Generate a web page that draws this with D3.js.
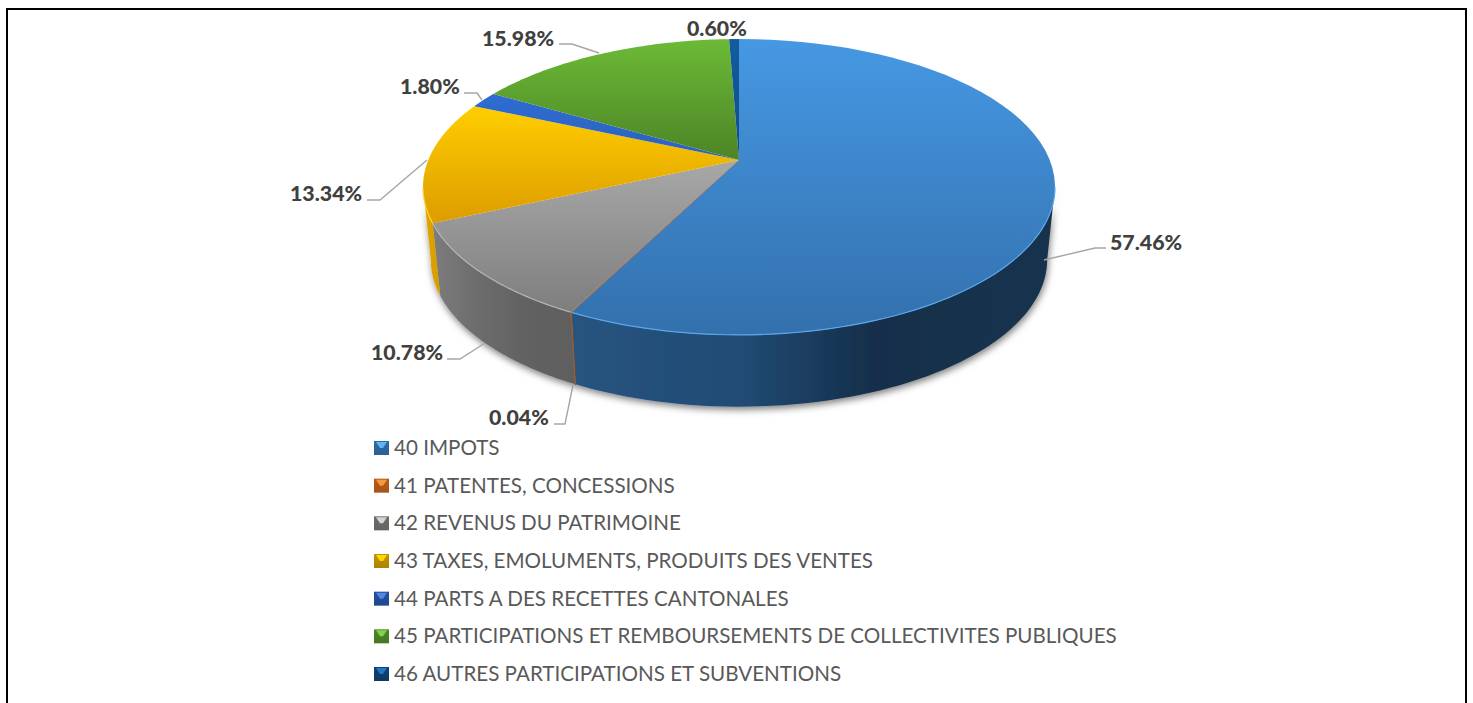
<!DOCTYPE html>
<html><head><meta charset="utf-8">
<script src="https://cdn.jsdelivr.net/npm/d3@7"></script>
<style>html,body{margin:0;background:#fff}svg{display:block}</style></head>
<body><svg id="c" width="1473" height="703"></svg>
<script>
// ---- data ----
const categories = ["40 IMPOTS","41 PATENTES, CONCESSIONS","42 REVENUS DU PATRIMOINE","43 TAXES, EMOLUMENTS, PRODUITS DES VENTES","44 PARTS A DES RECETTES CANTONALES","45 PARTICIPATIONS ET REMBOURSEMENTS DE COLLECTIVITES PUBLIQUES","46 AUTRES PARTICIPATIONS ET SUBVENTIONS"];
const values = [57.46,0.04,10.78,13.34,1.80,15.98,0.60];
// ---- styles ----
const topLight = ["#4698e3","#ed7d31","#a8a8a8","#ffce00","#2f6cd2","#6cba36","#125c9f"];
const topDark  = ["#3370ad","#c05f1d","#7e7e7e","#dc9c00","#2a62bd","#4c8426","#0f4f86"];
const wallStops = [
  ["#27547f","#214b74","#152f4b","#17324e"],["#a8561c","#a8561c","#a8561c","#a8561c"],
  ["#7c7c7c","#6c6c6c","#626262","#5e5e5e"],["#e2a600","#dfa200","#d99e00","#d99e00"],
  ["#1e4488","#1e4488","#1e4488","#1e4488"],["#3d6a1e","#3d6a1e","#3d6a1e","#3d6a1e"],
  ["#0c3d68","#0c3d68","#0c3d68","#0c3d68"]];
const rimColors = ["#5ba6ea","#c05f1d","#b4b4b4","#ffd633","#3f78d8","#7cc646","#1a6cb0"];
const keyLight = ["#5fb6ef","#f5993f","#d4d4d4","#ffd800","#4f86e2","#80d24c","#1f78c4"];
const keyDark  = ["#2f6ba3","#bb5b1b","#6e6e6e","#c29200","#244f9e","#4c8527","#0e416e"];
// ---- layout ----
const labelLayout = [
  {x:1110,y:250,pts:[[1044,260],[1095,248],[1106,248]]},
  {x:489,y:425,pts:[[573,385],[565,424],[554,424]]},
  {x:371,y:360,pts:[[485,343],[460,359],[447,359]]},
  {x:290,y:201,pts:[[427,160],[380,200],[367,200]]},
  {x:400,y:94,pts:[[482,100],[477,93],[464,93]]},
  {x:482,y:46,pts:[[599,53],[572,44],[559,44]]},
  {x:687,y:36,pts:null}];

const svg = d3.select("#c"), defs = svg.append("defs");
svg.append("rect").attr("x",7).attr("y",9).attr("width",1459).attr("height",800)
  .attr("fill","#fff").attr("stroke","#000").attr("stroke-width",2);

// perspective of the pie plane: a disc seen obliquely
const cx = 739, k = 0.1824;
const proj = (a, rx, y0, ry) => {
  const u = Math.sin(a), v = -Math.cos(a), w = 1 - k*v;
  return [cx + rx*u/w, y0 + ry*v/w];
};
const topRim = a => proj(a, 310.7, 160, 143);
const lowRim = a => proj(a, 303, 233, 142);
const apex = [cx, 160];
const arcs = d3.pie().sort(null).startAngle(0).endAngle(2*Math.PI)(values);
const line = d3.line();
const sample = (a0,a1) => d3.range(0, 61).map(i => a0 + (a1-a0)*i/60);
// the wall is only visible between the two tangent angles of the disc
const frontA = Math.acos(-k), frontB = 2*Math.PI - frontA;

const f = defs.append("filter").attr("id","sh").attr("x","-10%").attr("y","-10%").attr("width","120%").attr("height","125%");
f.append("feDropShadow").attr("dx",1).attr("dy",3).attr("stdDeviation",3.5).attr("flood-color","#000").attr("flood-opacity",.5);

// walls
const walls = svg.append("g").attr("filter","url(#sh)");
arcs.forEach((d,i) => {
  const a0 = Math.max(d.startAngle,frontA), a1 = Math.min(d.endAngle,frontB);
  if (a1 <= a0) return;
  const as = sample(a0,a1);
  const pts = as.map(topRim).concat(as.slice().reverse().map(lowRim));
  const xe = d3.extent(pts, p=>p[0]);
  const g = defs.append("linearGradient").attr("id","w"+i).attr("gradientUnits","userSpaceOnUse")
    .attr("x1",xe[0]).attr("x2",xe[1]).attr("y1",0).attr("y2",0);
  const st = i===0 ? [0,0.35,0.62,1] : [0,0.33,0.66,1];
  wallStops[i].forEach((c,j)=>g.append("stop").attr("offset",st[j]).attr("stop-color",c));
  walls.append("path").attr("d",line(pts)+"Z").attr("fill",`url(#w${i})`)
    .attr("stroke",values[i]<0.1?wallStops[i][0]:"none").attr("stroke-width",.7);
});

// top face
const tops = svg.append("g");
arcs.forEach((d,i) => {
  const as = sample(d.startAngle,d.endAngle);
  const pts = [apex].concat(as.map(topRim));
  const ye = d3.extent(pts,p=>p[1]);
  const g = defs.append("linearGradient").attr("id","t"+i).attr("gradientUnits","userSpaceOnUse")
    .attr("x1",0).attr("x2",0).attr("y1",ye[0]).attr("y2",ye[1]);
  g.append("stop").attr("offset",0).attr("stop-color",topLight[i]);
  g.append("stop").attr("offset",1).attr("stop-color",topDark[i]);
  tops.append("path").attr("d",line(pts)+"Z").attr("fill",`url(#t${i})`)
    .attr("stroke",values[i]<0.1?topDark[i]:"none").attr("stroke-width",.6);
});
// highlight only on the front rim, where the top meets the wall
arcs.forEach((d,i) => {
  const a0 = Math.max(d.startAngle,frontA), a1 = Math.min(d.endAngle,frontB);
  if (a1 <= a0) return;
  tops.append("path").attr("d",line(sample(a0,a1).map(topRim))).attr("fill","none")
    .attr("stroke",rimColors[i]).attr("stroke-width",1.2);
});

// leaders and labels
const lab = svg.append("g");
labelLayout.forEach((l,i)=>{
  if(l.pts) lab.append("path").attr("d",line(l.pts)).attr("fill","none").attr("stroke","#a6a6a6").attr("stroke-width",1.4);
  lab.append("text").attr("x",l.x).attr("y",l.y).text(values[i].toFixed(2)+"%")
    .attr("font-family","Lato").attr("font-weight",900).attr("font-size",21.3).attr("fill","#404040");
});

// legend
const rowY = d3.scalePoint().domain(categories).range([448,674]);
const kg = svg.append("g");
categories.forEach((c,i)=>{
  const y = rowY(c), s = 15, x = 374, t = y-7;
  const g = defs.append("linearGradient").attr("id","k"+i).attr("x1",0).attr("x2",0).attr("y1",0).attr("y2",1);
  g.append("stop").attr("offset",0).attr("stop-color",keyDark[i]);
  g.append("stop").attr("offset",1).attr("stop-color",d3.color(keyDark[i]).darker(.3));
  kg.append("rect").attr("x",x).attr("y",t).attr("width",s).attr("height",s-1).attr("fill",`url(#k${i})`);
  kg.append("path").attr("d",line([[x+2,t+1],[x+s-2,t+1],[x+s-6,t+7],[x+6,t+7]])+"Z").attr("fill",keyLight[i]);
  kg.append("text").attr("x",394).attr("y",y+7).text(c)
    .attr("font-family","Lato").attr("font-size",20.6).attr("fill","#595959");
});
</script></body></html>
